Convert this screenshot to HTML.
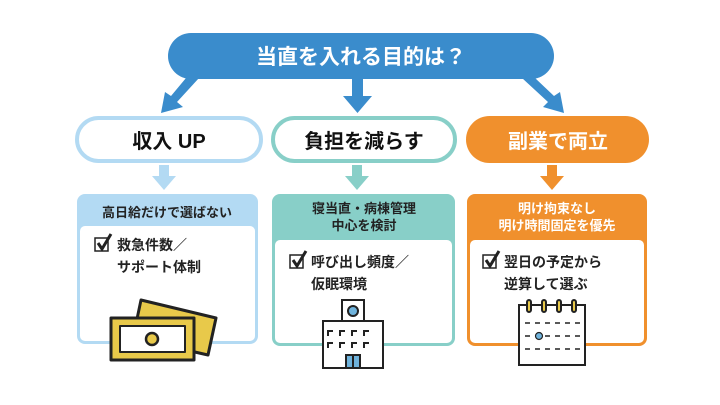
<!DOCTYPE html>
<html><head><meta charset="utf-8"><style>
body{margin:0;background:#fff;}
svg text{font-family:"Liberation Sans","Noto Sans CJK JP",sans-serif;font-weight:bold;}
</style></head><body>
<svg width="720" height="400" viewBox="0 0 720 400" xmlns="http://www.w3.org/2000/svg">
<!-- top pill -->
<rect x="168" y="33" width="386" height="46" rx="23" fill="#3a8ccc"/>
<text x="361" y="64" font-size="21" fill="#fff" text-anchor="middle">当直を入れる目的は？</text>
<!-- big arrows -->
<g fill="#3a8ccc">
<polygon points="186,78 199,78 177,102 183,107 161,113 165,92 171,96 "/>
<rect x="352" y="78" width="11" height="20"/><polygon points="343,96 372,96 357.5,113"/>
<polygon points="522,78 535,78 554,96 560,92 564,113 543,107 548,102"/>
</g>
<!-- middle pills -->
<rect x="77" y="118" width="184" height="43" rx="21.5" fill="#fff" stroke="#b3daf3" stroke-width="4"/>
<text x="169" y="148" font-size="20" fill="#111" text-anchor="middle">収入 UP</text>
<rect x="273" y="118" width="182" height="43" rx="21.5" fill="#fff" stroke="#88cfc8" stroke-width="4"/>
<text x="364" y="148" font-size="20" fill="#111" text-anchor="middle">負担を減らす</text>
<rect x="466" y="116" width="183" height="47" rx="23.5" fill="#f0902d"/>
<text x="558" y="148" font-size="20" fill="#fff" text-anchor="middle">副業で両立</text>
<!-- small arrows -->
<rect x="159" y="165" width="10" height="13" fill="#b3daf3"/><polygon points="152,176 176,176 164,190" fill="#b3daf3"/>
<rect x="352" y="165" width="10" height="13" fill="#88cfc8"/><polygon points="345,176 369,176 357,190" fill="#88cfc8"/>
<rect x="547" y="165" width="10" height="13" fill="#f0902d"/><polygon points="540,176 564,176 552,190" fill="#f0902d"/>
<!-- cards -->
<rect x="77" y="194" width="181" height="150" rx="8" fill="#b3daf3"/>
<rect x="80" y="226" width="175" height="115" rx="5" fill="#fff"/>
<text x="167" y="217" font-size="13" fill="#222" text-anchor="middle">高日給だけで選ばない</text>
<rect x="272" y="194" width="183" height="152" rx="8" fill="#88cfc8"/>
<rect x="275" y="240" width="177" height="103" rx="5" fill="#fff"/>
<text x="364" y="213" font-size="13" fill="#222" text-anchor="middle">寝当直・病棟管理</text>
<text x="364" y="230" font-size="13" fill="#222" text-anchor="middle">中心を検討</text>
<rect x="467" y="194" width="180" height="152" rx="8" fill="#f0902d"/>
<rect x="470" y="240" width="174" height="103" rx="5" fill="#fff"/>
<text x="557" y="213" font-size="13" fill="#fff" text-anchor="middle">明け拘束なし</text>
<text x="557" y="230" font-size="13" fill="#fff" text-anchor="middle">明け時間固定を優先</text>
<!-- checkboxes -->
<g fill="none" stroke="#222" stroke-width="1.5">
<rect x="95" y="238" width="13" height="13"/><rect x="290" y="255" width="13" height="13"/><rect x="483" y="255" width="13" height="13"/>
</g>
<g fill="none" stroke="#222" stroke-width="3">
<polyline points="98,243 102,249 111,234"/><polyline points="293,260 297,266 306,251"/><polyline points="486,260 490,266 499,251"/>
</g>
<g font-size="14" fill="#222">
<text x="117" y="250">救急件数／</text><text x="117" y="272">サポート体制</text>
<text x="311" y="267">呼び出し頻度／</text><text x="311" y="289">仮眠環境</text>
<text x="504" y="267">翌日の予定から</text><text x="504" y="289">逆算して選ぶ</text>
</g>
<!-- money -->
<g stroke="#222" stroke-width="3" stroke-linejoin="round">
<polygon points="141,300 216,318 208,355 133,338" fill="#e8c94a"/>
<rect x="111" y="318" width="83" height="42" fill="#e8c94a"/>
<path d="M120,326 h65 v26 h-65 z" fill="#fff" stroke-width="2"/>
<circle cx="152" cy="339" r="6" fill="#e8c94a" stroke-width="2.5"/>
</g>
<!-- building -->
<g stroke="#222" stroke-width="2" fill="#fff">
<rect x="342" y="300" width="22" height="22"/>
<rect x="323" y="321" width="60" height="47"/>
<circle cx="353" cy="311" r="5" fill="#6fb3dc"/>
<rect x="346" y="355" width="14" height="13" fill="#6fb3dc"/>
</g>
<g stroke="#222" stroke-width="2" fill="none">
<path d="M328,336 v-5 h5 M340,336 v-5 h5 M352,336 v-5 h5 M364,336 v-5 h5 M328,348 v-5 h5 M340,348 v-5 h5 M352,348 v-5 h5 M364,348 v-5 h5"/>
<line x1="353" y1="355" x2="353" y2="368"/>
</g>
<!-- calendar -->
<g stroke="#222" stroke-width="2" fill="#fff">
<rect x="519" y="305" width="66" height="60"/>
</g>
<g stroke="#222" stroke-width="2" fill="#e8c94a">
<rect x="527" y="300" width="4" height="12" rx="2"/><rect x="542" y="300" width="4" height="12" rx="2"/><rect x="557" y="300" width="4" height="12" rx="2"/><rect x="572" y="300" width="4" height="12" rx="2"/>
</g>
<g stroke="#222" stroke-width="1.5" stroke-dasharray="5,5">
<line x1="525" y1="323" x2="582" y2="323"/><line x1="525" y1="336" x2="582" y2="336"/><line x1="525" y1="349" x2="582" y2="349"/>
</g>
<circle cx="539" cy="336" r="3.5" fill="#6fb3dc" stroke="#222" stroke-width="1.2"/>
</svg>
</body></html>
